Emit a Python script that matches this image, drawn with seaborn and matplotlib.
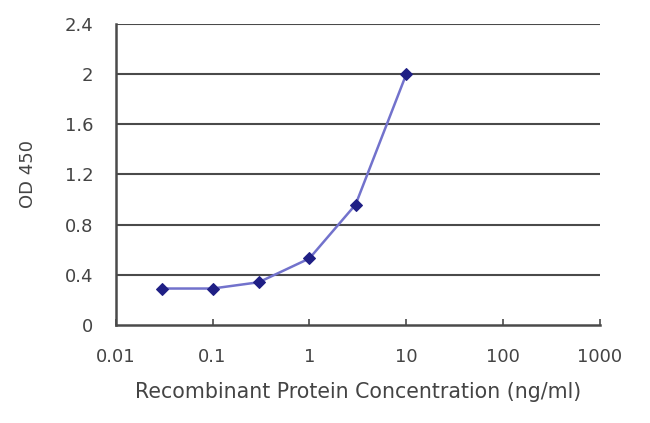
import matplotlib
matplotlib.use("Agg")
import matplotlib.pyplot as plt
import seaborn as sns
import pandas as pd
from matplotlib.ticker import FixedLocator, FixedFormatter, NullLocator

# values
concentration = [0.03, 0.1, 0.3, 1, 3, 10]
od450 = [0.29, 0.29, 0.34, 0.53, 0.96, 2.0]
x_ticks = [0.01, 0.1, 1, 10, 100, 1000]
x_tick_labels = ["0.01", "0.1", "1", "10", "100", "1000"]
y_ticks = [0, 0.4, 0.8, 1.2, 1.6, 2, 2.4]
y_tick_labels = ["0", "0.4", "0.8", "1.2", "1.6", "2", "2.4"]

df = pd.DataFrame({"conc": concentration, "od": od450})

sns.set_style("white")
plt.rcParams["font.family"] = ["DejaVu Sans"]

fig, ax = plt.subplots(figsize=(6.5, 4.23), dpi=100)
fig.subplots_adjust(left=0.178, right=0.923, top=0.943, bottom=0.232)

sns.lineplot(data=df, x="conc", y="od", ax=ax, color="#7272cc", linewidth=1.8,
             marker="D", markersize=6.5, markerfacecolor="#1f1f85",
             markeredgecolor="#1f1f85", zorder=3)

ax.set_xscale("log")
ax.set_xlim(0.01, 1000)
ax.set_ylim(0, 2.4)
ax.xaxis.set_major_locator(FixedLocator(x_ticks))
ax.xaxis.set_major_formatter(FixedFormatter(x_tick_labels))
ax.xaxis.set_minor_locator(NullLocator())
ax.yaxis.set_major_locator(FixedLocator(y_ticks))
ax.yaxis.set_major_formatter(FixedFormatter(y_tick_labels))

for y in y_ticks[1:]:
    ax.axhline(y, color="#4a4a4a", linewidth=1.5, zorder=1)

for side in ["top", "right"]:
    ax.spines[side].set_visible(False)
for side in ["left", "bottom"]:
    ax.spines[side].set_color("#4a4a4a")
    ax.spines[side].set_linewidth(1.8)

ax.tick_params(axis="x", direction="in", length=4, width=1.2, color="#4a4a4a",
               labelsize=13, labelcolor="#444444", pad=17, bottom=True)
ax.tick_params(axis="y", direction="out", length=0, labelsize=13,
               labelcolor="#444444", pad=16)

ax.set_xlabel("Recombinant Protein Concentration (ng/ml)", fontsize=14.8,
              color="#444444", labelpad=11)
ax.set_ylabel("OD 450", fontsize=13, color="#444444", labelpad=20)

fig.savefig("out.png", dpi=100)
